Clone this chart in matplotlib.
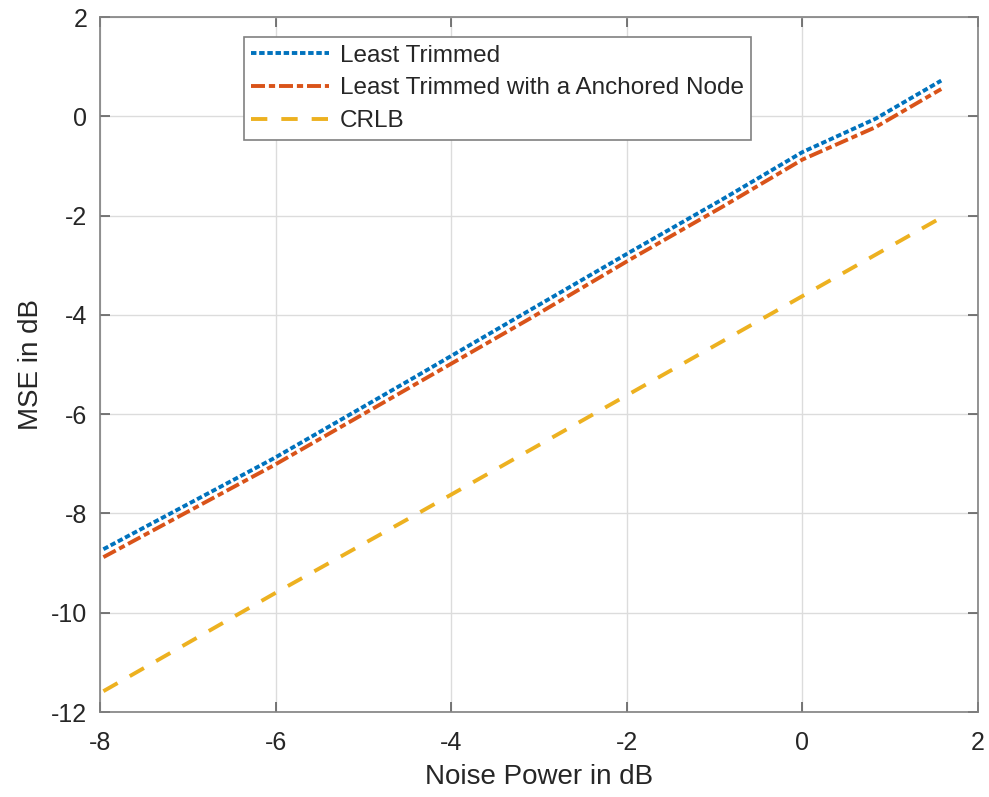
import matplotlib
matplotlib.use("Agg")
import matplotlib.pyplot as plt

noise_db = [-7.96, -6.02, -4.44, -3.10, -1.94, -0.92, 0.0, 0.83, 1.58]
mse_lt = [-8.72, -6.89, -5.28, -3.90, -2.71, -1.68, -0.72, -0.05, 0.72]
mse_lt_anchor = [-8.88, -7.03, -5.43, -4.07, -2.86, -1.83, -0.87, -0.22, 0.55]
crlb = [-11.58, -9.62, -8.06, -6.72, -5.56, -4.54, -3.62, -2.79, -2.04]

labels = ["Least Trimmed", "Least Trimmed with a Anchored Node", "CRLB"]
xticks = [-8, -6, -4, -2, 0, 2]
yticks = [-12, -10, -8, -6, -4, -2, 0, 2]

plt.rcParams['font.family'] = ['Liberation Sans', 'DejaVu Sans']

fig = plt.figure(figsize=(9.89, 7.97), dpi=100)
ax = fig.add_axes([0.101, 0.1066, 0.888, 0.872])

ax.plot(noise_db, mse_lt, color='#0072BD', lw=2.8, linestyle=(0, (1.4, 0.7)), label=labels[0])
ax.plot(noise_db, mse_lt_anchor, color='#D95319', lw=2.8, linestyle=(0, (3.6, 1.0, 1.6, 1.0)), label=labels[1])
ax.plot(noise_db, crlb, color='#EDB120', lw=2.8, linestyle=(0, (4.2, 3.6)), label=labels[2])

ax.set_xlim(-8, 2)
ax.set_ylim(-12, 2)
ax.set_xticks(xticks)
ax.set_yticks(yticks)
ax.set_xticklabels([str(t) for t in xticks])
ax.set_yticklabels([str(t) for t in yticks])
ax.grid(True, color='#dcdcdc', lw=1)
ax.set_axisbelow(True)
for s in ax.spines.values():
    s.set_color('#808080')
    s.set_linewidth(1.2)
ax.tick_params(direction='in', top=True, right=True, length=7, width=1.2,
               color='#606060', labelsize=18, labelcolor='#262626')
ax.tick_params(axis='x', pad=14)
ax.tick_params(axis='y', pad=9)
ax.set_xlabel("Noise Power in dB", fontsize=20, color='#262626', labelpad=6)
ax.set_ylabel("MSE in dB", fontsize=20, color='#262626', labelpad=5)

leg = ax.legend(loc='upper left', bbox_to_anchor=(0.164, 0.971), borderaxespad=0,
                fontsize=17.5, frameon=True, fancybox=False, framealpha=1,
                edgecolor='#808080', handlelength=3.2, handletextpad=0.45,
                labelspacing=0.45, borderpad=0.3)
leg.get_frame().set_linewidth(1.2)
for t in leg.get_texts():
    t.set_color('#262626')

fig.savefig("out.png", dpi=100)
